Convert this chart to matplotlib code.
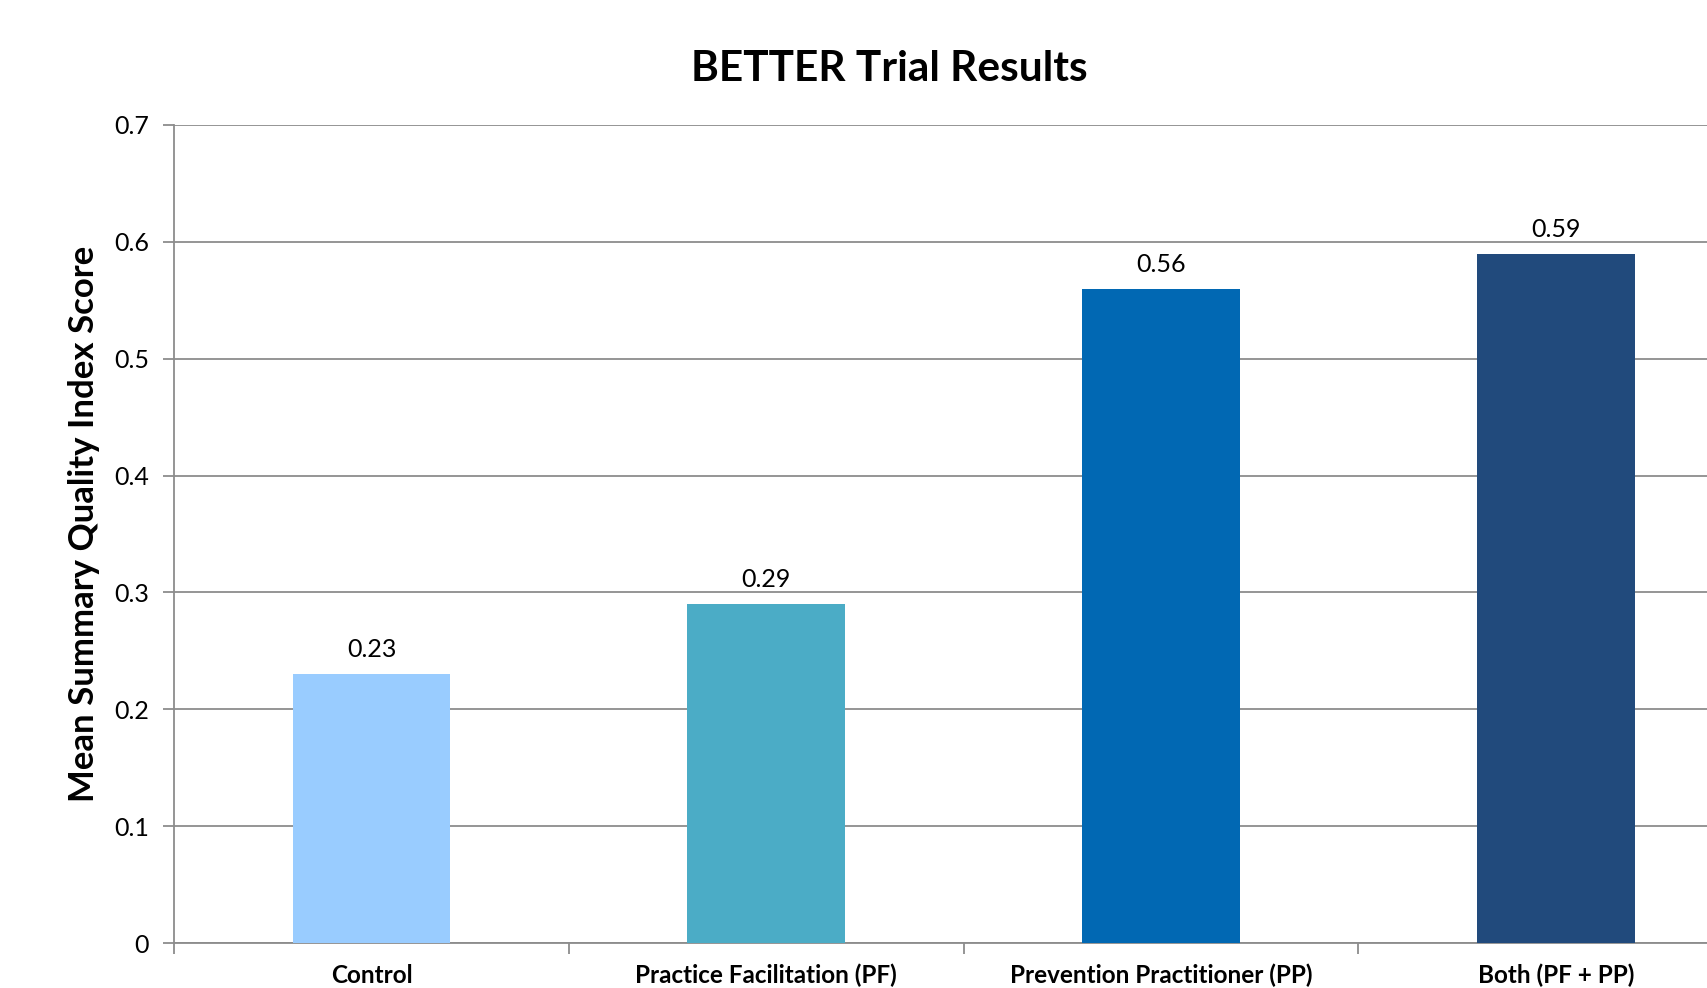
import numpy as np
import matplotlib
matplotlib.use("Agg")
import matplotlib.pyplot as plt

categories = ["Control", "Practice Facilitation (PF)", "Prevention Practitioner (PP)", "Both (PF + PP)"]
scores = [0.23, 0.29, 0.56, 0.59]
bar_colors = ["#99CCFF", "#4BACC6", "#0168B3", "#214A7C"]
y_ticks = [0, 0.1, 0.2, 0.3, 0.4, 0.5, 0.6, 0.7]

plt.rcParams["font.family"] = ["Lato", "DejaVu Sans"]

fig = plt.figure(figsize=(17.07, 9.88), dpi=100)
ax = fig.add_axes([0.102, 0.0455, 0.925, 0.828])

x = np.arange(len(categories))
ax.bar(x, scores, width=0.4, color=bar_colors, zorder=3)

for xi, v in zip(x, scores):
    ax.text(xi, v + 0.011, f"{v:.2f}", ha="center", va="bottom", fontsize=18)

ax.set_xlim(-0.5, 3.5)
ax.set_ylim(0, 0.7)
ax.set_yticks(y_ticks)
ax.set_yticklabels(["0" if t == 0 else f"{t:.1f}" for t in y_ticks], fontsize=18)
ax.yaxis.grid(True, color="#8c8c8c", linewidth=1.3, zorder=0)

# category boundary ticks, labels at centers
ax.set_xticks(np.arange(-0.5, 4.0, 1.0))
ax.set_xticklabels([])
ax.set_xticks(x, minor=True)
ax.set_xticklabels(categories, minor=True, fontsize=17.5, fontweight="bold")
ax.tick_params(axis="x", which="minor", length=0, pad=15)
ax.tick_params(axis="x", which="major", length=8, color="#8c8c8c", width=1.3)
ax.tick_params(axis="y", length=8, color="#8c8c8c", width=1.3, pad=10)

for s in ["top", "right"]:
    ax.spines[s].set_visible(False)
for s in ["left", "bottom"]:
    ax.spines[s].set_color("#8c8c8c")
    ax.spines[s].set_linewidth(1.3)

ax.set_ylabel("Mean Summary Quality Index Score", fontsize=25, fontweight="bold")
ax.yaxis.set_label_coords(-0.047, 0.513)
fig.text(0.521, 0.93, "BETTER Trial Results", ha="center", va="center", fontsize=30.5, fontweight="bold")

fig.savefig("out.png", dpi=100)
